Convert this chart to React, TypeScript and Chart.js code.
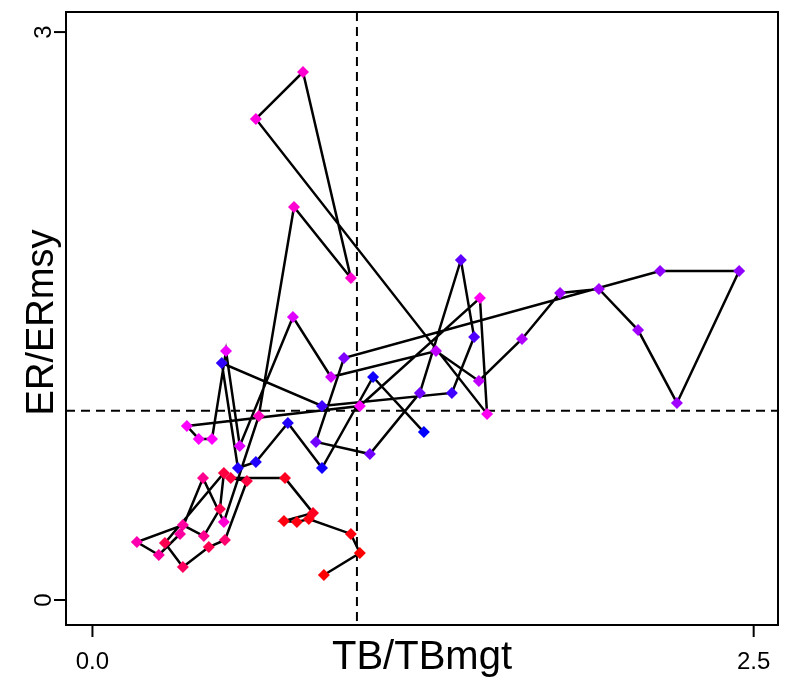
import React, { useEffect, useRef } from "react";
import { Chart, registerables } from "chart.js";

Chart.register(...registerables);

// Trajectory values (TB/TBmgt, ER/ERmsy), in drawing order
const tbRatio = [
  0.875, 1.011, 0.977, 0.818, 0.773, 0.724, 0.834, 0.728, 0.523, 0.584,
  0.501, 0.44, 0.342, 0.274, 0.497, 0.482, 0.421, 0.342, 0.168, 0.251,
  0.331, 0.418, 0.497, 0.629, 0.762, 0.977, 0.796, 0.618, 1.492, 1.465,
  1.011, 0.357, 0.402, 0.452, 0.505, 0.557, 0.758, 0.902, 1.299, 1.461,
  1.624, 1.768, 1.915, 2.063, 2.21, 2.445, 2.146, 0.951, 0.845, 1.049,
  1.238, 1.393, 1.443, 1.359, 0.868, 0.489, 0.55, 0.618, 0.739, 0.868,
  1.061, 1.253,
];
const erRatio = [
  0.132, 0.248, 0.349, 0.428, 0.412, 0.417, 0.46, 0.644, 0.644, 0.629,
  0.317, 0.28, 0.174, 0.301, 0.671, 0.481, 0.338, 0.396, 0.306, 0.238,
  0.349, 0.644, 0.412, 0.972, 2.076, 1.701, 2.789, 2.541, 0.983, 1.595,
  1.025, 0.919, 0.851, 0.851, 1.315, 0.814, 1.495, 1.178, 1.315, 1.157,
  1.379, 1.622, 1.643, 1.426, 1.041, 1.738, 1.738, 1.278, 0.835, 0.771,
  1.094, 1.796, 1.389, 1.094, 1.025, 1.252, 0.697, 0.729, 0.935, 0.697,
  1.178, 0.887,
];
const pointColors = [
  "#FF0000", "#FF0000", "#FF0010", "#FF0010", "#FF0010", "#FF0010", "#FF0020", "#FF0020", "#FF0040", "#FF0040",
  "#FF0070", "#FF0050", "#FF0060", "#FF0050", "#FF0040", "#FF0050", "#FF0090", "#FF00A0", "#FF00B0", "#FF00A0",
  "#FF00A0", "#FF0090", "#FF00D0", "#FF00C0", "#FF00D0", "#FF00D0", "#FF00D0", "#FF00E0", "#FF00F0", "#FF00F0",
  "#FF00FF", "#FF00FF", "#FF00FF", "#FF00FF", "#F000FF", "#E000FF", "#E000FF", "#D000FF", "#C000FF", "#C000FF",
  "#B000FF", "#A000FF", "#A000FF", "#A000FF", "#A000FF", "#9000FF", "#9000FF", "#8000FF", "#7000FF", "#7000FF",
  "#7000FF", "#6000FF", "#5000FF", "#4000FF", "#4000FF", "#3000FF", "#2000FF", "#2000FF", "#2000FF", "#1000FF",
  "#1000FF", "#0000FF",
];

const xTickValues = [0, 2.5];
const xTickLabels = ["0.0", "2.5"];
const yTickValues = [0, 3];
const yTickLabels = ["0", "3"];
const xTitle = "TB/TBmgt";
const yTitle = "ER/ERmsy";
const refTB = 1;
const refER = 1;
const xRange = [-0.1, 2.592];
const yRange = [-0.132, 3.106];

const FONT = "'Liberation Sans', Arial, Helvetica, sans-serif";

export default function App() {
  const canvasRef = useRef<HTMLCanvasElement | null>(null);

  useEffect(() => {
    const canvas = canvasRef.current;
    if (!canvas) return;

    const rAxes = {
      id: "rAxes",
      beforeDatasetsDraw(chart: any) {
        const { ctx, chartArea: a, scales } = chart;
        const x = scales.x;
        const y = scales.y;
        ctx.save();
        ctx.strokeStyle = "#000";
        ctx.lineWidth = 2;
        ctx.setLineDash([9, 6]);
        const vx = x.getPixelForValue(refTB);
        ctx.beginPath();
        ctx.moveTo(vx, a.top);
        ctx.lineTo(vx, a.bottom);
        ctx.stroke();
        const hy = y.getPixelForValue(refER);
        ctx.beginPath();
        ctx.moveTo(a.left, hy);
        ctx.lineTo(a.right, hy);
        ctx.stroke();
        ctx.restore();
      },
      afterDraw(chart: any) {
        const { ctx, chartArea: a, scales } = chart;
        const x = scales.x;
        const y = scales.y;
        ctx.save();
        ctx.strokeStyle = "#000";
        ctx.fillStyle = "#000";
        ctx.lineWidth = 2;
        ctx.setLineDash([]);
        ctx.strokeRect(a.left, a.top, a.right - a.left, a.bottom - a.top);

        ctx.font = `24px ${FONT}`;
        xTickValues.forEach((v, i) => {
          const px = x.getPixelForValue(v);
          ctx.beginPath();
          ctx.moveTo(px, a.bottom);
          ctx.lineTo(px, a.bottom + 12);
          ctx.stroke();
          ctx.textAlign = "center";
          ctx.textBaseline = "alphabetic";
          ctx.fillText(xTickLabels[i], px, a.bottom + 44);
        });
        yTickValues.forEach((v, i) => {
          const py = y.getPixelForValue(v);
          ctx.beginPath();
          ctx.moveTo(a.left, py);
          ctx.lineTo(a.left - 12, py);
          ctx.stroke();
          ctx.save();
          ctx.translate(a.left - 15, py);
          ctx.rotate(-Math.PI / 2);
          ctx.textAlign = "center";
          ctx.textBaseline = "alphabetic";
          ctx.fillText(yTickLabels[i], 0, 0);
          ctx.restore();
        });

        ctx.font = `40px ${FONT}`;
        ctx.textAlign = "center";
        ctx.textBaseline = "alphabetic";
        ctx.fillText(xTitle, (a.left + a.right) / 2, a.bottom + 44);
        ctx.save();
        ctx.font = `38px ${FONT}`;
        ctx.translate(a.left - 13, (a.top + a.bottom) / 2 + 4);
        ctx.rotate(-Math.PI / 2);
        ctx.fillText(yTitle, 0, 0);
        ctx.restore();
        ctx.restore();
      },
    };

    const chart = new Chart(canvas, {
      type: "scatter",
      data: {
        datasets: [
          {
            data: tbRatio.map((v, i) => ({ x: v, y: erRatio[i] })),
            showLine: true,
            borderColor: "#000",
            borderWidth: 2.5,
            pointStyle: "rectRot",
            pointRadius: 6,
            pointBackgroundColor: pointColors,
            pointBorderColor: pointColors,
            pointBorderWidth: 0,
            tension: 0,
          },
        ],
      },
      options: {
        animation: false,
        responsive: false,
        devicePixelRatio: 1,
        events: [],
        layout: { padding: { left: 66, right: 15, top: 12, bottom: 56 } },
        plugins: { legend: { display: false }, tooltip: { enabled: false } },
        scales: {
          x: { type: "linear", display: false, min: xRange[0], max: xRange[1] },
          y: { type: "linear", display: false, min: yRange[0], max: yRange[1] },
        },
      },
      plugins: [rAxes],
    });

    return () => chart.destroy();
  }, []);

  return (
    <div style={{ position: "fixed", left: 0, top: 0, width: 793, height: 681, background: "#fff" }}>
      <canvas ref={canvasRef} width={793} height={681} />
    </div>
  );
}
